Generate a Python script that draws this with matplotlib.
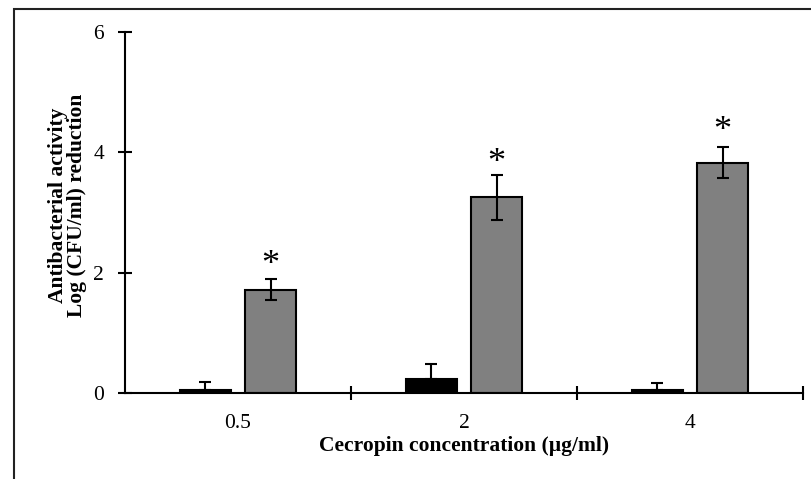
import matplotlib.pyplot as plt
from matplotlib.patches import Rectangle
import numpy as np

plt.rcParams['font.family'] = ['Liberation Serif', 'DejaVu Serif']

# log reduction for each cecropin concentration
concentrations = ['0.5', '2', '4']
black_vals = [0.05, 0.24, 0.05]
black_err = [0.14, 0.25, 0.12]
gray_vals = [1.72, 3.25, 3.83]
gray_err = [0.17, 0.37, 0.26]
star_y = [2.12, 3.82, 4.35]

fig = plt.figure(figsize=(8.11, 4.79), dpi=100)
ax = fig.add_axes([125 / 811, 86 / 479, 678 / 811, 361 / 479])

x = np.arange(len(concentrations))
w = 0.226
off = 0.144
ax.bar(x - off, black_vals, w, color='black', edgecolor='black', linewidth=1.5,
       yerr=[[0] * 3, black_err], error_kw=dict(ecolor='black', elinewidth=1.5, capsize=4, capthick=1.5))
ax.bar(x + off, gray_vals, w, color='#808080', edgecolor='black', linewidth=1.5,
       yerr=gray_err, error_kw=dict(ecolor='black', elinewidth=1.5, capsize=4, capthick=1.5))

for xi, sy in zip(x, star_y):
    ax.text(xi + off, sy, '*', ha='center', va='center', fontsize=26)

ax.set_xlim(-0.5, 2.5)
ax.set_ylim(0, 6)
ax.set_yticks([0, 2, 4, 6])
ax.set_xticks(x)
ax.set_xticklabels(concentrations)
ax.set_xticks([0.5, 1.5, 2.5], minor=True)
ax.tick_params(axis='x', which='major', length=0, pad=15, labelsize=15.5)
ax.tick_params(axis='x', which='minor', direction='inout', length=10, width=1.5)
ax.tick_params(axis='y', direction='inout', length=10, width=1.5, pad=10, labelsize=15.5)

for s in ['top', 'right']:
    ax.spines[s].set_visible(False)
for s in ['left', 'bottom']:
    ax.spines[s].set_linewidth(1.5)

ax.set_xlabel('Cecropin concentration (µg/ml)', fontsize=15.5, fontweight='bold', labelpad=2)
ax.set_ylabel('Antibacterial activity\nLog (CFU/ml) reduction', fontsize=15.5,
              fontweight='bold', linespacing=0.95, labelpad=4)
ax.yaxis.set_label_coords(-0.056, 0.52)

# outer frame around the figure
fig.patches.append(Rectangle((14 / 811, -0.1), 1.0, (479 - 9) / 479 + 0.1,
                             transform=fig.transFigure, fill=False,
                             edgecolor='#222222', linewidth=1.5))

fig.savefig('out.png', dpi=100)
